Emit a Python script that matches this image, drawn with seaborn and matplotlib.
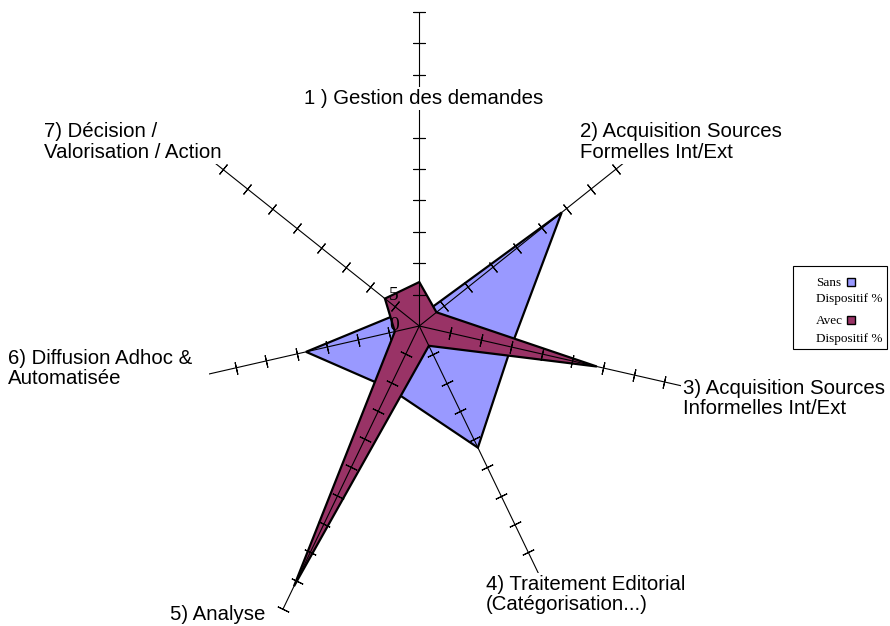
import numpy as np
import matplotlib
matplotlib.use("Agg")
import matplotlib.pyplot as plt
import seaborn as sns
from matplotlib.patches import Rectangle
from matplotlib.lines import Line2D

categories = ["1 ) Gestion des demandes",
              "2) Acquisition Sources\nFormelles Int/Ext",
              "3) Acquisition Sources\nInformelles Int/Ext",
              "4) Traitement Editorial\n(Catégorisation...)",
              "5) Analyse",
              "6) Diffusion Adhoc &\nAutomatisée",
              "7) Décision /\nValorisation / Action"]
sans = [1.5, 29, 15, 21.5, 11, 18.5, 3.5]
avec = [7, 3.5, 29, 3.5, 46, 4, 7]
series_names = ["Sans\nDispositif %", "Avec\nDispositif %"]
tick_values = [5, 10, 15, 20, 25, 30, 35, 40, 45, 50]
radial_labels = ["0", "5"]

sns.set_style("white")
plt.rcParams['font.family'] = ['Liberation Sans', 'DejaVu Sans']
plt.rcParams['text.color'] = 'black'

W, H = 890, 626
fig = plt.figure(figsize=(W / 100, H / 100), dpi=100)
cx, cy, R = 419.3, 326, 314
ax = fig.add_axes([(cx - R) / W, (H - cy - R) / H, 2 * R / W, 2 * R / H], projection='polar')
ax.set_theta_zero_location('N')
ax.set_theta_direction(-1)
ax.set_ylim(0, 50)
ax.grid(False)
ax.set_xticks([])
ax.set_yticks([])
ax.spines['polar'].set_visible(False)
ax.patch.set_alpha(0)

n = len(categories)
theta = np.arange(n) * 2 * np.pi / n
th_closed = np.append(theta, theta[0])

blue = "#9999FF"
purple = "#993366"
ax.fill(th_closed, np.append(sans, sans[0]), facecolor=blue, edgecolor='black', lw=1.6, zorder=1)
ax.fill(th_closed, np.append(avec, avec[0]), facecolor=purple, edgecolor='black', lw=1.6, zorder=2)

for k, t in enumerate(theta):
    ax.plot([t, t], [0, tick_values[-1]], color='black', lw=0.8, zorder=3, clip_on=False)
    ang = 90 - np.degrees(t)
    ax.plot([t] * len(tick_values), tick_values, linestyle='none', marker=(2, 2, ang),
            ms=9, mew=0.8, color='black', zorder=3, clip_on=False)

# radial labels
for lab, ypix in zip(radial_labels, [325, 296]):
    fig.text(394 / W, 1 - ypix / H, lab, family='Liberation Serif', fontsize=14,
             ha='center', va='center')

# category labels
fs = 14.7
label_pos = [(304, 98.5, 'left'), (580, 142, 'left'), (683, 398.5, 'left'),
             (486, 594.5, 'left'), (265, 614, 'right'), (8, 368.5, 'left'),
             (44, 142, 'left')]
label_pad = [1.5, 1.5, 1.5, 1.5, 1.5, 12, 1.5]
for lab, (x, y, ha), pad in zip(categories, label_pos, label_pad):
    fig.text(x / W, 1 - y / H, lab, fontsize=fs, ha=ha, va='center', linespacing=1.1,
             bbox=dict(facecolor='white', edgecolor='none', pad=pad))

# legend
fig.add_artist(Rectangle((793 / W, 1 - 349 / H), 94 / W, 83 / H, transform=fig.transFigure,
                         facecolor='white', edgecolor='black', lw=0.8))
leg_rows = [(283, 299, blue), (321, 339, purple)]
for name, (y1, y2, col) in zip(series_names, leg_rows):
    first, second = name.split("\n")
    fig.text(816 / W, 1 - y1 / H, first, family='Liberation Serif', fontsize=9.5, ha='left', va='center')
    fig.text(816 / W, 1 - y2 / H, second, family='Liberation Serif', fontsize=9.5, ha='left', va='center')
    fig.add_artist(Line2D([851 / W], [1 - (y1 - 1) / H], transform=fig.transFigure, marker='s',
                          ms=6, mfc=col, mec='black', mew=1, linestyle='none'))

fig.savefig("out.png", dpi=100)
